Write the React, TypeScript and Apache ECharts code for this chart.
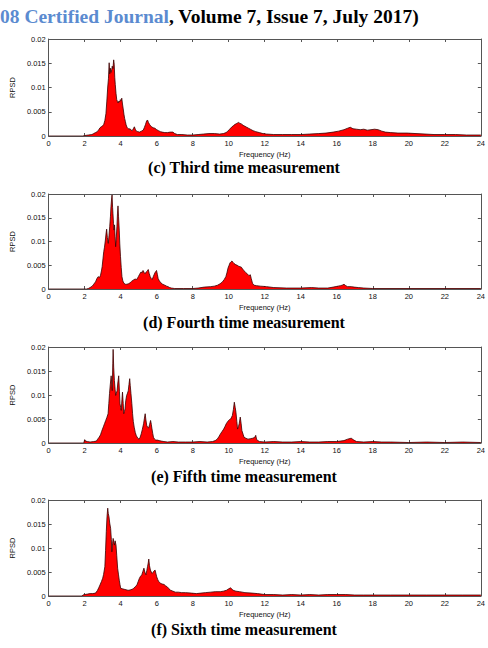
import React, { useEffect, useRef } from "react";
import * as echarts from "echarts";

type Pt = [number, number];

const xTicks = { min: 0, max: 24, interval: 2 };
const yTicks = { min: 0, max: 0.02, interval: 0.005 };
const xAxisName = "Frequency (Hz)";
const yAxisName = "RPSD";
const captions = [
  "(c) Third time measurement",
  "(d) Fourth time measurement",
  "(e) Fifth time measurement",
  "(f) Sixth time measurement",
];
const headerBlue = "08 Certified Journal";
const headerBlack = ", Volume 7, Issue 7, July 2017)";

const thirdSpectrum: Pt[] = [
  [0, 0], [1.9, 0], [2.0, 0.0001], [2.2, 0.0002], [2.4, 0.0003], [2.5, 0.0005], [2.6, 0.0007], [2.7, 0.0009],
  [2.78, 0.0013], [2.85, 0.0017], [2.92, 0.0019], [3.0, 0.0021], [3.06, 0.0024], [3.12, 0.0032], [3.18, 0.0046],
  [3.23, 0.0072], [3.28, 0.0101], [3.32, 0.0118], [3.36, 0.0151], [3.39, 0.0128], [3.42, 0.014], [3.46, 0.0131],
  [3.5, 0.0136], [3.53, 0.0144], [3.57, 0.0139], [3.61, 0.0157], [3.64, 0.0148], [3.67, 0.0121], [3.7, 0.0106],
  [3.74, 0.0088], [3.78, 0.0075], [3.82, 0.0071], [3.86, 0.0068], [3.9, 0.0072], [3.94, 0.007], [3.98, 0.0075],
  [4.02, 0.0073], [4.06, 0.0078], [4.1, 0.0066], [4.14, 0.0056], [4.18, 0.0045], [4.22, 0.0036], [4.26, 0.003],
  [4.3, 0.0023], [4.35, 0.0018], [4.4, 0.0016], [4.46, 0.0014], [4.52, 0.0015], [4.58, 0.0012], [4.64, 0.0011],
  [4.7, 0.0015], [4.76, 0.0019], [4.81, 0.0014], [4.87, 0.001], [4.95, 0.0009], [5.05, 0.0008], [5.15, 0.001],
  [5.25, 0.0012], [5.32, 0.0018], [5.38, 0.0024], [5.44, 0.0031], [5.49, 0.0033], [5.54, 0.0028], [5.6, 0.0024],
  [5.66, 0.0021], [5.72, 0.0019], [5.8, 0.0017], [5.9, 0.0016], [6.0, 0.0013], [6.1, 0.0011], [6.2, 0.0009],
  [6.3, 0.0008], [6.45, 0.0007], [6.6, 0.0007], [6.75, 0.0008], [6.9, 0.0008], [7.0, 0.0005], [7.15, 0.0003],
  [7.4, 0.0003], [7.7, 0.0002], [8.0, 0.0002], [8.3, 0.0003], [8.6, 0.0004], [8.9, 0.0005], [9.2, 0.0005],
  [9.5, 0.0004], [9.7, 0.0005], [9.85, 0.0007], [9.95, 0.001], [10.05, 0.0014], [10.15, 0.0018], [10.25, 0.0021],
  [10.35, 0.0024], [10.45, 0.0026], [10.55, 0.0028], [10.62, 0.0026], [10.7, 0.0025], [10.8, 0.0022], [10.9, 0.002],
  [11.0, 0.0018], [11.1, 0.0016], [11.2, 0.0014], [11.35, 0.0011], [11.5, 0.0009], [11.7, 0.0007], [11.9, 0.0005],
  [12.1, 0.0004], [12.5, 0.0003], [13.0, 0.0003], [13.5, 0.0003], [14.0, 0.0003], [14.5, 0.0004], [15.0, 0.0005],
  [15.4, 0.0006], [15.8, 0.0008], [16.1, 0.001], [16.4, 0.0013], [16.6, 0.0016], [16.75, 0.0018], [16.9, 0.0015],
  [17.1, 0.0014], [17.3, 0.0013], [17.5, 0.0014], [17.7, 0.0012], [17.9, 0.0013], [18.1, 0.0014], [18.3, 0.0013],
  [18.5, 0.001], [18.7, 0.0008], [19.0, 0.0007], [19.4, 0.0006], [19.9, 0.0006], [20.4, 0.0005], [20.9, 0.0004],
  [21.4, 0.0003], [22.0, 0.0003], [22.6, 0.0003], [23.2, 0.0002], [24, 0.0002],
];

const fourthSpectrum: Pt[] = [
  [0, 0], [2.1, 0], [2.2, 0.0001], [2.3, 0.0003], [2.42, 0.0006], [2.5, 0.001], [2.6, 0.0015], [2.68, 0.0022],
  [2.75, 0.0026], [2.82, 0.0024], [2.88, 0.0029], [2.93, 0.0038], [2.97, 0.0047], [3.02, 0.0065], [3.06, 0.0079],
  [3.1, 0.0088], [3.15, 0.0103], [3.19, 0.0118], [3.22, 0.0126], [3.26, 0.0108], [3.31, 0.0096], [3.35, 0.0112],
  [3.39, 0.0131], [3.43, 0.0152], [3.46, 0.0173], [3.5, 0.0192], [3.52, 0.0198], [3.55, 0.0172], [3.57, 0.0159],
  [3.6, 0.0138], [3.63, 0.0124], [3.66, 0.0135], [3.69, 0.011], [3.72, 0.0089], [3.75, 0.0105], [3.79, 0.0131],
  [3.82, 0.0158], [3.85, 0.0175], [3.88, 0.0152], [3.92, 0.0124], [3.95, 0.0095], [3.99, 0.0068], [4.03, 0.0045],
  [4.07, 0.0026], [4.12, 0.0017], [4.18, 0.0012], [4.26, 0.001], [4.34, 0.001], [4.43, 0.0011], [4.52, 0.0013],
  [4.6, 0.0016], [4.71, 0.0019], [4.8, 0.0021], [4.89, 0.002], [4.95, 0.0024], [4.98, 0.0026], [5.05, 0.0031],
  [5.13, 0.0036], [5.19, 0.0034], [5.24, 0.0039], [5.3, 0.0035], [5.35, 0.0032], [5.42, 0.0036], [5.48, 0.0038],
  [5.53, 0.0041], [5.58, 0.0033], [5.64, 0.0026], [5.7, 0.0022], [5.75, 0.002], [5.82, 0.0027], [5.9, 0.0034],
  [5.95, 0.0037], [5.99, 0.0039], [6.04, 0.003], [6.08, 0.0022], [6.15, 0.0017], [6.23, 0.0013], [6.33, 0.001],
  [6.45, 0.0008], [6.55, 0.0006], [6.63, 0.0005], [6.72, 0.0003], [6.81, 0.0002], [7.0, 0.0001], [7.5, 0.0001],
  [8.0, 0.0001], [8.3, 0.0002], [8.64, 0.0004], [9.0, 0.0005], [9.2, 0.0006], [9.38, 0.0008], [9.52, 0.0011],
  [9.65, 0.0015], [9.75, 0.002], [9.84, 0.0026], [9.9, 0.0034], [9.96, 0.0044], [10.02, 0.005], [10.07, 0.0055],
  [10.12, 0.0057], [10.18, 0.0059], [10.24, 0.0056], [10.29, 0.0054], [10.35, 0.0052], [10.4, 0.0051],
  [10.47, 0.005], [10.55, 0.0048], [10.62, 0.0047], [10.7, 0.0046], [10.77, 0.0042], [10.84, 0.0039],
  [10.93, 0.0035], [11.03, 0.0032], [11.12, 0.0028], [11.2, 0.003], [11.25, 0.0022], [11.32, 0.0012], [11.4, 0.0008],
  [11.55, 0.0007], [11.75, 0.0006], [12.1, 0.0005], [12.5, 0.0003], [13.2, 0.0002], [14.0, 0.0002], [14.6, 0.0003],
  [15.0, 0.0002], [15.5, 0.0002], [15.8, 0.0004], [16.07, 0.0006], [16.2, 0.0007], [16.3, 0.0008], [16.4, 0.001],
  [16.5, 0.0007], [16.6, 0.0005], [16.8, 0.0005], [16.97, 0.0004], [17.2, 0.0003], [17.5, 0.0002], [18, 0.0001],
  [24, 0.0001],
];

const fifthSpectrum: Pt[] = [
  [0, 0], [1.95, 0], [2.0, 0.0007], [2.05, 0.0004], [2.15, 0.0003], [2.3, 0.0002], [2.5, 0.0003], [2.65, 0.0004],
  [2.72, 0.0008], [2.8, 0.0012], [2.88, 0.0017], [2.94, 0.0024], [2.99, 0.0029], [3.05, 0.0035], [3.11, 0.0041],
  [3.17, 0.0047], [3.23, 0.0053], [3.3, 0.0061], [3.34, 0.0082], [3.38, 0.0103], [3.42, 0.0121], [3.47, 0.014],
  [3.5, 0.0125], [3.53, 0.0109], [3.56, 0.0165], [3.58, 0.0195], [3.61, 0.0158], [3.65, 0.013], [3.69, 0.0112],
  [3.72, 0.0099], [3.76, 0.0104], [3.8, 0.0109], [3.84, 0.0125], [3.89, 0.014], [3.93, 0.0108], [3.96, 0.0082],
  [4.0, 0.0074], [4.03, 0.0068], [4.07, 0.0091], [4.1, 0.0106], [4.14, 0.0082], [4.17, 0.0061], [4.21, 0.0066],
  [4.24, 0.0071], [4.28, 0.0088], [4.33, 0.0099], [4.38, 0.0104], [4.42, 0.0109], [4.46, 0.0122], [4.5, 0.0134],
  [4.53, 0.012], [4.57, 0.0103], [4.62, 0.0082], [4.66, 0.0061], [4.7, 0.0045], [4.75, 0.0033], [4.81, 0.0022],
  [4.87, 0.0015], [4.95, 0.001], [5.02, 0.0008], [5.08, 0.0012], [5.14, 0.0019], [5.2, 0.0028], [5.27, 0.004],
  [5.32, 0.0052], [5.36, 0.0061], [5.4, 0.0048], [5.45, 0.0036], [5.5, 0.0033], [5.55, 0.0031], [5.6, 0.0038],
  [5.66, 0.0047], [5.7, 0.0039], [5.73, 0.0031], [5.78, 0.002], [5.82, 0.0012], [5.88, 0.0008], [5.95, 0.0006],
  [6.05, 0.0006], [6.13, 0.0005], [6.25, 0.0004], [6.4, 0.0003], [6.6, 0.0002], [6.9, 0.0003], [7.2, 0.0002],
  [7.6, 0.0002], [8.0, 0.0002], [8.4, 0.0003], [8.8, 0.0002], [9.1, 0.0003], [9.25, 0.0005], [9.36, 0.0008],
  [9.45, 0.0013], [9.54, 0.0019], [9.63, 0.0024], [9.72, 0.0029], [9.8, 0.0035], [9.86, 0.004], [9.93, 0.0044],
  [9.99, 0.0047], [10.05, 0.0049], [10.11, 0.005], [10.16, 0.0054], [10.2, 0.0057], [10.26, 0.007], [10.31, 0.0085],
  [10.36, 0.0074], [10.4, 0.0064], [10.45, 0.0045], [10.49, 0.0029], [10.54, 0.0034], [10.58, 0.004],
  [10.64, 0.0054], [10.69, 0.004], [10.73, 0.0026], [10.8, 0.0018], [10.85, 0.0012], [10.95, 0.001],
  [11.07, 0.0008], [11.2, 0.0009], [11.34, 0.001], [11.45, 0.0012], [11.5, 0.0016], [11.55, 0.0007], [11.7, 0.0003],
  [12.0, 0.0002], [12.5, 0.0003], [13.0, 0.0002], [13.5, 0.0002], [14.0, 0.0003], [14.5, 0.0002], [15.0, 0.0002],
  [15.5, 0.0003], [16.0, 0.0003], [16.4, 0.0005], [16.6, 0.0008], [16.8, 0.001], [16.95, 0.0006], [17.1, 0.0003],
  [17.5, 0.0002], [18.0, 0.0003], [18.5, 0.0002], [19, 0.0002], [20, 0.0001], [21, 0.0002], [22, 0.0001],
  [23, 0.0002], [24, 0.0001],
];

const sixthSpectrum: Pt[] = [
  [0, 0], [1.85, 0], [1.9, 0.0002], [2.0, 0.0003], [2.15, 0.0004], [2.3, 0.0005], [2.45, 0.0005], [2.6, 0.0006],
  [2.7, 0.0011], [2.78, 0.0017], [2.85, 0.0023], [2.93, 0.003], [3.0, 0.0037], [3.05, 0.0045], [3.12, 0.0061],
  [3.16, 0.0095], [3.2, 0.0134], [3.24, 0.0165], [3.28, 0.0183], [3.31, 0.0172], [3.35, 0.0165], [3.39, 0.0152],
  [3.44, 0.0141], [3.48, 0.0118], [3.51, 0.0092], [3.55, 0.011], [3.58, 0.012], [3.62, 0.0112], [3.65, 0.0106],
  [3.69, 0.0115], [3.74, 0.0106], [3.78, 0.0085], [3.83, 0.0058], [3.88, 0.0044], [3.92, 0.0033], [3.96, 0.0024],
  [4.0, 0.0016], [4.1, 0.0015], [4.19, 0.0014], [4.3, 0.0013], [4.4, 0.0012], [4.46, 0.0012], [4.55, 0.0013],
  [4.64, 0.0014], [4.72, 0.0016], [4.8, 0.0019], [4.9, 0.0023], [4.97, 0.003], [5.04, 0.0037], [5.1, 0.0041],
  [5.17, 0.0044], [5.23, 0.0051], [5.29, 0.0058], [5.34, 0.005], [5.4, 0.0044], [5.45, 0.0053], [5.49, 0.0061],
  [5.53, 0.0069], [5.56, 0.0077], [5.6, 0.0063], [5.65, 0.0054], [5.7, 0.005], [5.75, 0.0047], [5.79, 0.0049],
  [5.85, 0.0052], [5.91, 0.0054], [5.96, 0.0046], [6.0, 0.004], [6.06, 0.0034], [6.11, 0.003], [6.17, 0.0028],
  [6.23, 0.0026], [6.3, 0.0025], [6.41, 0.0024], [6.5, 0.0021], [6.59, 0.0019], [6.68, 0.0015], [6.77, 0.0012],
  [6.9, 0.001], [7.04, 0.0008], [7.2, 0.0008], [7.39, 0.0007], [7.6, 0.0007], [7.93, 0.0006], [8.2, 0.0005],
  [8.46, 0.0006], [8.7, 0.0007], [9.0, 0.0008], [9.25, 0.0009], [9.53, 0.0009], [9.7, 0.001], [9.88, 0.0012],
  [10.0, 0.0015], [10.1, 0.0017], [10.24, 0.0012], [10.4, 0.001], [10.6, 0.0009], [10.9, 0.0007], [11.3, 0.0006],
  [11.6, 0.0005], [12.0, 0.0003], [12.5, 0.0003], [13, 0.0002], [13.5, 0.0003], [14, 0.0002], [14.5, 0.0003],
  [15, 0.0002], [15.5, 0.0003], [16, 0.0003], [16.5, 0.0003], [17, 0.0002], [17.5, 0.0002], [18, 0.0002],
  [19, 0.0002], [20, 0.0002], [21, 0.0002], [22, 0.0002], [23, 0.0002], [24, 0.0002],
];

const spectra = [thirdSpectrum, fourthSpectrum, fifthSpectrum, sixthSpectrum];

const W = 488;
const H = 648;
const panelBoxes = [
  { left: 36, top: 39, width: 445, height: 97, caption: 167 },
  { left: 36, top: 194, width: 445, height: 95, caption: 322 },
  { left: 36, top: 347, width: 445, height: 96, caption: 476 },
  { left: 35, top: 500, width: 446, height: 96, caption: 629 },
];

const SANS = "Liberation Sans, Arial, sans-serif";
const SERIF = "Liberation Serif, Times New Roman, serif";
const AXIS_COLOR = "#555";

export default function App() {
  const ref = useRef<HTMLDivElement>(null);

  useEffect(() => {
    if (!ref.current) return;
    const chart = echarts.init(ref.current, undefined, { renderer: "svg", width: W, height: H });

    const grid: any[] = [];
    const xAxis: any[] = [];
    const yAxis: any[] = [];
    const series: any[] = [];

    panelBoxes.forEach((b, i) => {
      grid.push({ left: b.left, top: b.top, width: b.width, height: b.height, containLabel: false });
      const common = {
        gridIndex: i,
        type: "value",
        splitLine: { show: false },
        axisLine: { show: true, onZero: false, lineStyle: { color: AXIS_COLOR, width: 1 } },
        axisTick: { show: true, inside: true, length: 3, lineStyle: { color: AXIS_COLOR, width: 1 } },
      };
      xAxis.push({
        ...common,
        ...xTicks,
        position: "bottom",
        axisLabel: { fontSize: 7.5, color: "#111", fontFamily: SANS, margin: 3 },
        name: xAxisName,
        nameLocation: "middle",
        nameGap: 14,
        nameTextStyle: { fontSize: 7.5, color: "#111", fontFamily: SANS },
      });
      xAxis.push({
        ...common,
        ...xTicks,
        position: "top",
        axisLabel: { show: false },
      });
      yAxis.push({
        ...common,
        ...yTicks,
        position: "left",
        axisLabel: {
          fontSize: 7.5,
          color: "#111",
          fontFamily: SANS,
          margin: 3,
          formatter: (v: number) => String(+v.toFixed(3)),
        },
        name: yAxisName,
        nameLocation: "middle",
        nameGap: 26,
        nameRotate: 90,
        nameTextStyle: { fontSize: 7.5, color: "#111", fontFamily: SANS },
      });
      yAxis.push({
        ...common,
        ...yTicks,
        position: "right",
        axisLabel: { show: false },
      });
      series.push({
        type: "line",
        xAxisIndex: 2 * i,
        yAxisIndex: 2 * i,
        data: spectra[i],
        showSymbol: false,
        symbol: "none",
        lineStyle: { color: "#3a0000", width: 0.8 },
        areaStyle: { color: "#ff0000", opacity: 1 },
        z: 1,
      });
    });

    const graphic: any[] = panelBoxes.map((b, i) => ({
      type: "text",
      x: 244,
      y: b.caption,
      style: {
        text: captions[i],
        font: `bold 16px ${SERIF}`,
        fill: "#000",
        textAlign: "center",
        textVerticalAlign: "middle",
      },
    }));
    graphic.push({
      type: "text",
      x: 0,
      y: 16,
      style: {
        text: `{b|${headerBlue}}{k|${headerBlack}}`,
        textVerticalAlign: "middle",
        rich: {
          b: { fontFamily: SERIF, fontWeight: "bold", fontSize: 19.5, fill: "#5b8bd0" } as any,
          k: { fontFamily: SERIF, fontWeight: "bold", fontSize: 19.5, fill: "#000" } as any,
        },
      },
    });

    chart.setOption({
      animation: false,
      backgroundColor: "#fff",
      grid,
      xAxis,
      yAxis,
      series,
      graphic,
    });

    return () => chart.dispose();
  }, []);

  return (
    <div
      ref={ref}
      style={{ position: "absolute", left: 0, top: 0, width: W, height: H, background: "#fff" }}
    />
  );
}
